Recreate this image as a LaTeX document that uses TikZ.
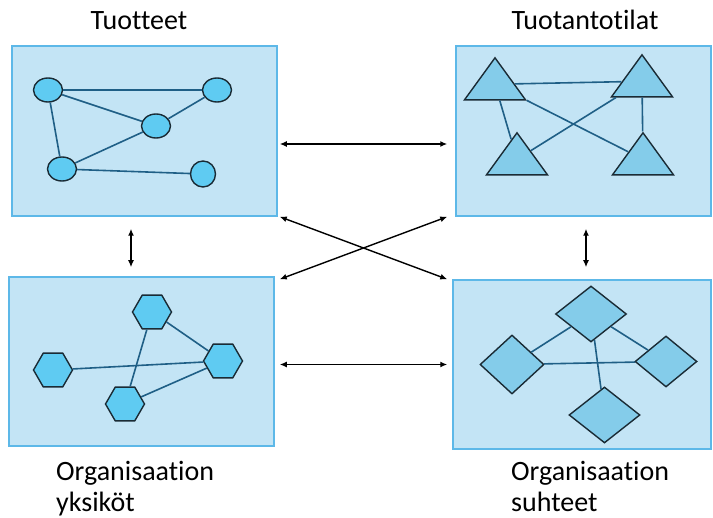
\documentclass[tikz,border=0pt]{standalone}
\usepackage{fontspec}
\setmainfont{Carlito}[Ligatures=NoCommon]
\usetikzlibrary{arrows.meta,shapes.geometric}
\definecolor{panelFill}{HTML}{C3E4F5}
\definecolor{panelLine}{HTML}{5DB8E8}
\definecolor{itemSky}{HTML}{5FCBF2}
\definecolor{itemPale}{HTML}{84CCEA}
\definecolor{itemLine}{HTML}{1A2B35}
\definecolor{linkBlue}{HTML}{1F5F86}
\tikzset{
  >={Latex[length=7pt,width=6pt]},
  panel/.style={draw=panelLine, line width=1.5pt, fill=panelFill, inner sep=0pt},
  item/.style={draw=itemLine, line width=1.4pt, inner sep=0pt},
  dot/.style={item, ellipse, fill=itemSky, minimum width=29pt, minimum height=24pt},
  tri/.style={item, isosceles triangle, isosceles triangle stretches,
              shape border rotate=90, fill=itemPale,
              minimum width=61pt, minimum height=42pt},
  hexa/.style={item, regular polygon, regular polygon sides=6, fill=itemSky,
              minimum size=39pt},
  rhomb/.style={item, diamond, fill=itemPale, minimum width=71pt, minimum height=56pt},
  link/.style={draw=linkBlue, line width=1.6pt},
  arr/.style={<->, line width=1.4pt},
  title/.style={font=\fontsize{28}{31}\selectfont, inner sep=0pt},
}
\begin{document}
\begin{tikzpicture}[x=1pt,y=-1pt]
  \useasboundingbox (0,0) rectangle (713,518);
  % four panels
  \node[panel, minimum width=265pt, minimum height=170pt] (boxP) at (144.5,131) {};
  \node[panel, minimum width=255pt, minimum height=170pt] (boxT) at (583.5,131) {};
  \node[panel, minimum width=265pt, minimum height=169pt] (boxY) at (141.5,361.5) {};
  \node[panel, minimum width=258pt, minimum height=169pt] (boxS) at (582,364.5) {};
  % products
  \node[dot] (c1) at (48,90) {};
  \node[dot] (c2) at (217,90) {};
  \node[dot] (c3) at (156,126) {};
  \node[dot] (c4) at (62,169) {};
  \node[dot, minimum width=25pt, minimum height=26pt] (c5) at (203,174) {};
  \foreach \a/\b in {c1/c2,c1/c3,c3/c2,c1/c4,c4/c3,c4/c5}
    \draw[link] (\a) -- (\b);
  % production sites
  \node[tri, anchor=apex] (t1) at (495,56) {};
  \node[tri, anchor=apex] (t2) at (642,53) {};
  \node[tri, anchor=apex] (t3) at (517,131) {};
  \node[tri, anchor=apex] (t4) at (643,131) {};
  \foreach \a/\b in {t1/t2,t1/t4,t2/t3,t1/t3,t2/t4}
    \draw[link] (\a) -- (\b);
  % units
  \node[hexa] (h1) at (152,312) {};
  \node[hexa] (h2) at (53,370) {};
  \node[hexa] (h3) at (223,361) {};
  \node[hexa] (h4) at (125,404) {};
  \foreach \a/\b in {h1/h3,h1/h4,h2/h3,h4/h3}
    \draw[link] (\a) -- (\b);
  % relations
  \node[rhomb] (d1) at (591,314) {};
  \node[rhomb, minimum width=64pt, minimum height=59pt] (d2) at (512,364.5) {};
  \node[rhomb, minimum width=62pt, minimum height=51pt] (d3) at (666,361.5) {};
  \node[rhomb] (d4) at (604.5,415) {};
  \foreach \a/\b in {d1/d2,d1/d3,d1/d4,d2/d3}
    \draw[link] (\a) -- (\b);
  % arrows between panels
  \draw[arr] ([xshift=2pt,yshift=-13pt]boxP.east) -- ([xshift=-8pt,yshift=-13pt]boxT.west);
  \draw[arr] ([xshift=2pt]boxP.south east) -- ([xshift=-5pt]boxS.north west);
  \draw[arr] ([xshift=5pt,yshift=-3pt]boxY.north east) -- ([xshift=-8pt]boxT.south west);
  \draw[arr] ([xshift=5pt,yshift=-3pt]boxY.east) -- ([xshift=-5pt]boxS.west);
  \draw[arr] ([xshift=-13.5pt,yshift=-12pt]boxP.south) -- ([xshift=-10.5pt,yshift=9pt]boxY.north);
  \draw[arr] ([xshift=2.5pt,yshift=-12pt]boxT.south) -- ([xshift=4pt,yshift=12pt]boxS.north);
  % labels
  \node[title, anchor=base] (tP) at (139,30) {Tuotteet};
  \node[title, anchor=base] (tT) at (585,30) {Tuotantotilat};
  \node[title, anchor=north west, align=left] (tY) at (56,461) {Organisaation\\yksiköt};
  \node[title, anchor=north west, align=left] (tS) at (511,461) {Organisaation\\suhteet};
\end{tikzpicture}
\end{document}
